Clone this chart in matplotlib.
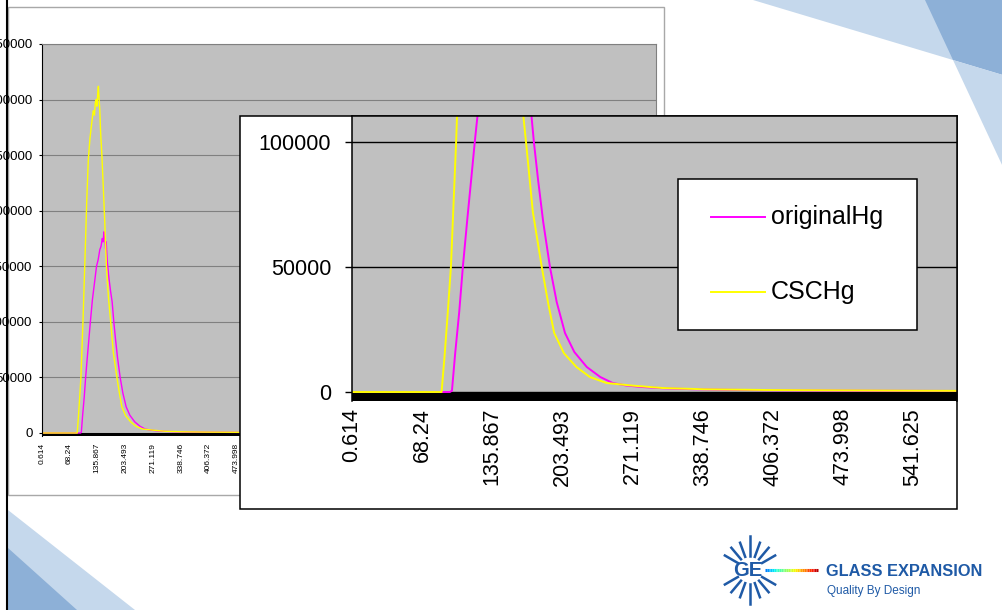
import matplotlib
matplotlib.use('Agg')
import matplotlib.pyplot as plt
import numpy as np
from matplotlib.patches import Polygon, Rectangle

plt.rcParams['font.family'] = ['Liberation Sans', 'DejaVu Sans']

# %% data (x = category value, y = counts)
orig_x = [0.614, 20, 40, 60, 80, 95, 97, 100, 104, 107.5, 112, 116, 119, 124, 130, 134, 138, 142, 145,
          148, 150, 152, 154, 156, 157.5, 160, 164, 168, 172, 176, 180, 185, 191.5, 198, 206, 215, 227,
          240, 252, 265, 280, 300, 330, 360, 400, 450, 500, 550, 600, 700, 900, 1100, 1300, 1495]
orig_y = [0, 0, 0, 0, 0, 0, 500, 15000, 32000, 50000, 70000, 87000, 100000, 120000, 138000, 150000,
          156000, 165000, 168000, 175000, 172000, 181000, 176000, 166000, 172000, 155000, 140000,
          128000, 118000, 100000, 85000, 68000, 50000, 36000, 23600, 16000, 10000, 6000, 3600, 2600,
          2000, 1500, 1100, 900, 700, 600, 500, 450, 400, 300, 200, 150, 100, 100]

csc_x = [0.614, 20, 40, 60, 80, 87, 90, 93, 96, 98, 101, 104, 107, 110, 114, 118, 122, 126, 129, 131,
         133, 135, 137, 138.5, 140, 142, 144, 147, 150, 154, 158, 163, 168.4, 175, 183.6, 190, 195.6,
         205, 217, 230, 246, 270, 300, 340, 400, 450, 500, 550, 600, 700, 900, 1100, 1300, 1495]
csc_y = [0, 0, 0, 0, 0, 0, 15000, 32000, 50000, 70000, 100000, 135000, 170000, 207000, 246000, 265000,
         278000, 290000, 286000, 297000, 300000, 294000, 306000, 312000, 302000, 290000, 270000,
         250000, 225000, 190000, 150000, 122000, 100000, 72000, 50000, 35000, 23600, 15500, 10000,
         6000, 3600, 2600, 1600, 1100, 800, 700, 600, 500, 450, 350, 250, 200, 150, 100]

series_names = ['originalHg', 'CSCHg']
series_colors = ['#FF00FF', '#FFFF00']

tick_labels = ['0.614', '68.24', '135.867', '203.493', '271.119', '338.746', '406.372', '473.998', '541.625']
left_yticks = [0, 50000, 100000, 150000, 200000, 250000, 300000, 350000]
right_yticks = [0, 50000, 100000]

tick_pos = [float(t) for t in tick_labels]
series = [(orig_x, orig_y), (csc_x, csc_y)]

# %% figure in pixel units
W, H = 1003, 610
fig = plt.figure(figsize=(W / 100, H / 100), dpi=100)
fig.patch.set_facecolor('white')


def box(x0, y0, x1, y1):
    # pixel box (origin top left) -> figure fraction
    return [x0 / W, 1 - y1 / H, (x1 - x0) / W, (y1 - y0) / H]


def overlay(z):
    a = fig.add_axes([0, 0, 1, 1], zorder=z)
    a.set_xlim(0, W)
    a.set_ylim(H, 0)
    a.axis('off')
    return a


light = '#C5D8EC'
dark = '#8DB0D7'
bg = overlay(0)
bg.add_patch(Polygon([(753, 0), (1003, 0), (1003, 75)], color=light, lw=0))
bg.add_patch(Polygon([(925, 0), (1003, 0), (1003, 75), (953, 60)], color=dark, lw=0))
bg.add_patch(Polygon([(953, 60), (1003, 75), (1003, 167)], color=light, lw=0))
bg.add_patch(Polygon([(8, 510), (135, 610), (8, 610)], color=light, lw=0))
bg.add_patch(Polygon([(8, 548), (77, 610), (8, 610)], color=dark, lw=0))
bg.add_patch(Rectangle((8, 7), 656, 488, fc='white', ec='#A8A8A8', lw=1))

# %% big chart behind
ax1 = fig.add_axes(box(41.7, 44, 656, 436), zorder=1)
ax1.set_facecolor('#C0C0C0')
for (xs, ys), name, c in zip(series, series_names, series_colors):
    ax1.plot(xs, ys, color=c, lw=1.0, label=name)
ax1.axhspan(-2700, 0, color='black', lw=0)
ax1.set_xlim(0.614, 1495)
ax1.set_ylim(-2700, 350000)
ax1.set_yticks(left_yticks)
ax1.set_yticklabels([str(v) for v in left_yticks], fontsize=9.5)
ax1.set_xticks(tick_pos)
ax1.set_xticklabels(tick_labels, rotation=90, fontsize=6)
ax1.grid(axis='y', color='#808080', lw=0.8)
ax1.set_axisbelow(True)
ax1.tick_params(axis='x', length=0, pad=5)
ax1.tick_params(axis='y', length=2.5, width=0.8, pad=4)
ax1.spines['bottom'].set_visible(False)
ax1.spines['left'].set_color('black')
ax1.spines['left'].set_linewidth(0.8)
for s in ['top', 'right']:
    ax1.spines[s].set_color('#808080')
    ax1.spines[s].set_linewidth(0.8)

# %% zoomed chart in front
mid = overlay(2)
mid.add_patch(Rectangle((240, 116), 717, 393, fc='white', ec='black', lw=1.1))

ax2 = fig.add_axes(box(352, 116, 957, 401), zorder=3)
ax2.set_facecolor('#C0C0C0')
for (xs, ys), name, c in zip(series, series_names, series_colors):
    ax2.plot(xs, ys, color=c, lw=1.4, label=name)
ax2.axhspan(-3600, 0, color='black', lw=0)
ax2.set_xlim(0.614, 584)
ax2.set_ylim(-3600, 110400)
ax2.set_yticks(right_yticks)
ax2.set_yticklabels([str(v) for v in right_yticks], fontsize=15.5)
ax2.set_xticks(tick_pos)
ax2.set_xticklabels(tick_labels, rotation=90, fontsize=15.5)
ax2.grid(axis='y', color='black', lw=1.0)
ax2.set_axisbelow(True)
ax2.tick_params(axis='x', length=0, pad=5)
ax2.tick_params(axis='y', length=5, width=1, pad=10)
ax2.spines['bottom'].set_visible(False)
for s in ['top', 'right', 'left']:
    ax2.spines[s].set_color('black')
    ax2.spines[s].set_linewidth(1.1)

# legend box, laid out like the Excel one
lg = overlay(4)
lg.add_patch(Rectangle((678, 179), 239, 151, fc='white', ec='black', lw=1.1))
for i, (name, c) in enumerate(zip(series_names, series_colors)):
    yy = 217 + i * 75
    lg.plot([711, 765], [yy, yy], color=c, lw=1.4)
    lg.text(771, yy, name, fontsize=18, ha='left', va='center')

# %% slide border and logo
fg = overlay(5)
fg.plot([7.5, 7.5], [0, H], color='black', lw=1.5)

blue = '#1F5AA6'
cx, cy = 750, 570
for a in [30, 50, 70, 90, 110, 130, 150, 210, 230, 250, 270, 290, 310, 330]:
    t = np.deg2rad(a)
    r2 = 34 if a in (90, 270) else 29
    fg.plot([cx + 14 * np.cos(t), cx + r2 * np.cos(t)],
            [cy - 14 * np.sin(t), cy - r2 * np.sin(t)], color=blue, lw=1.8)
ramp = plt.cm.jet(np.linspace(0.25, 0.95, 30))
xs_r = np.linspace(765, 818, 31)
for i in range(30):
    fg.plot(xs_r[i:i + 2], [cy, cy], color=ramp[i], lw=2.2, solid_capstyle='butt')
fg.text(748, cy + 1, 'GE', color=blue, fontsize=14.5, fontweight='heavy',
        ha='center', va='center')
fg.text(826, 572, 'GLASS EXPANSION', color=blue, fontsize=11.8, fontweight='bold',
        ha='left', va='center')
fg.text(827, 591, 'Quality By Design', color=blue, fontsize=8.5,
        ha='left', va='center')

fig.savefig('out.png', dpi=100)
